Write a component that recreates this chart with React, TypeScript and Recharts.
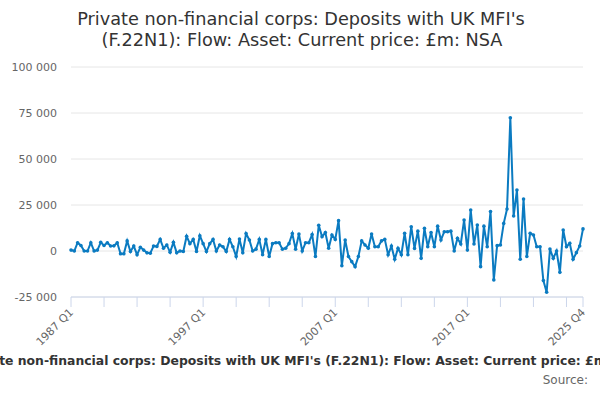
import React from 'react';
import { LineChart, Line, XAxis, YAxis, CartesianGrid } from 'recharts';

// Quarterly flows, £m, 1987 Q1 .. 2025 Q4
const startYear = 1987;
const values: number[] = [
  500, 0, 4500, 3000, 0, 0, 4500, 0, 500, 4700,
  3000, 4500, 2700, 2800, 4500, -1500, -1500, 5500, -300, 2700,
  -2000, 2000, 500, -1000, -1200, 2700, 2500, 6300, 1500, 3300,
  -700, 4700, -1000, 0, -300, 8000, 4000, 6300, -300, 8300,
  4000, -300, 4000, 6300, 0, 3300, 2300, -300, 6300, 2300,
  -3000, 6500, -1000, 9500, 6000, 0, 1000, 6300, -2000, 6300,
  -3000, 4000, 4500, 4500, 1000, 1500, 4000, 9500, 1000, 9200,
  0, 4500, 4500, 9000, -3000, 14000, 7800, 10000, 1500, 8700,
  6300, 16500, -8000, 6000, -3000, -5800, -8500, -3000, 5500, 3300,
  1500, 9200, 2300, 2300, 5500, 6300, -2000, 2700, -4500, 1500,
  -2000, 9600, -2000, 13200, 1400, 10800, -4000, 12300, 2300, 10000,
  2300, 13500, 6000, 10500, 10500, 10800, 0, 6900, 3800, 16800,
  500, 22300, 3800, 14100, -8500, 13500, 2300, 21400, -15700, 2900,
  3300, 15000, 22800, 72400, 19000, 33100, -4500, 28200, -3000, 9600,
  8700, 2300, 2300, -16100, -22400, 1100, -4000, 0, -11600, 11400,
  2300, 4200, -4500, -900, 2700, 12000,
];
const quarterLabels = values.map(
  (_, i) => `${startYear + Math.floor(i / 4)} Q${(i % 4) + 1}`,
);
const xTicks = [0, 10, 20, 30, 40, 50, 60, 70, 80, 90, 100, 110, 120, 130, 140, 150, 155];
const labelledTicks = [0, 40, 80, 120, 155];
const yTicks = [-25000, 0, 25000, 50000, 75000, 100000];

const title1 = "Private non-financial corps: Deposits with UK MFI's";
const title2 = '(F.22N1): Flow: Asset: Current price: £m: NSA';
const caption =
  "Private non-financial corps: Deposits with UK MFI's (F.22N1): Flow: Asset: Current price: £m: NSA";

const data = values.map((v, i) => ({ idx: i, label: quarterLabels[i], value: v }));

const FONT = '"DejaVu Sans", sans-serif';

const fmt = (v: number) => {
  const s = Math.abs(v)
    .toString()
    .replace(/\B(?=(\d{3})+(?!\d))/g, ' ');
  return v < 0 ? `-${s}` : s;
};

const XTick = (props: any) => {
  const { x, y, payload } = props;
  if (!labelledTicks.includes(payload.value)) return null;
  const tx = x + 3;
  const ty = y + 4;
  return (
    <text
      x={tx}
      y={ty}
      transform={`rotate(-45, ${tx}, ${ty})`}
      textAnchor="end"
      fontSize={11}
      fontFamily={FONT}
      fill="#666666"
    >
      {quarterLabels[payload.value]}
    </text>
  );
};

export default function App() {
  return (
    <div style={{ position: 'absolute', left: 0, top: 0, width: 600, height: 400, background: '#fff' }}>
      <LineChart
        width={600}
        height={400}
        data={data}
        margin={{ top: 67, right: 17, bottom: 43, left: 0 }}
      >
        <CartesianGrid horizontal={true} vertical={false} stroke="#e6e6e6" />
        <XAxis
          dataKey="idx"
          type="number"
          domain={[0, 155]}
          ticks={xTicks}
          interval={0}
          height={60}
          tickSize={10}
          tickMargin={2}
          stroke="#ccd6eb"
          tickLine={{ stroke: '#ccd6eb' }}
          axisLine={{ stroke: '#ccd6eb' }}
          tick={<XTick />}
        />
        <YAxis
          type="number"
          domain={[-25000, 100000]}
          ticks={yTicks}
          width={71}
          axisLine={false}
          tickLine={false}
          tickMargin={8}
          tickFormatter={fmt}
          tick={{ fontSize: 11, fontFamily: FONT, fill: '#666666' }}
        />
        <Line
          type="linear"
          dataKey="value"
          stroke="#0b7bc1"
          strokeWidth={2}
          dot={{ r: 1.8, fill: '#0b7bc1', stroke: '#0b7bc1', strokeWidth: 0 }}
          activeDot={false}
          isAnimationActive={false}
        />
      </LineChart>
      <svg
        width={600}
        height={400}
        style={{ position: 'absolute', left: 0, top: 0, pointerEvents: 'none' }}
      >
        <text x={301} y={25} textAnchor="middle" fontSize={17.7} fontFamily={FONT} fill="#333333">
          {title1}
        </text>
        <text x={302} y={46} textAnchor="middle" fontSize={17.7} fontFamily={FONT} fill="#333333">
          {title2}
        </text>
        <text
          x={304}
          y={365}
          textAnchor="middle"
          fontSize={12.4}
          fontWeight="bold"
          fontFamily={FONT}
          fill="#333333"
        >
          {caption}
        </text>
        <text x={588} y={384} textAnchor="end" fontSize={12} fontFamily={FONT} fill="#666666">
          Source:
        </text>
      </svg>
    </div>
  );
}
